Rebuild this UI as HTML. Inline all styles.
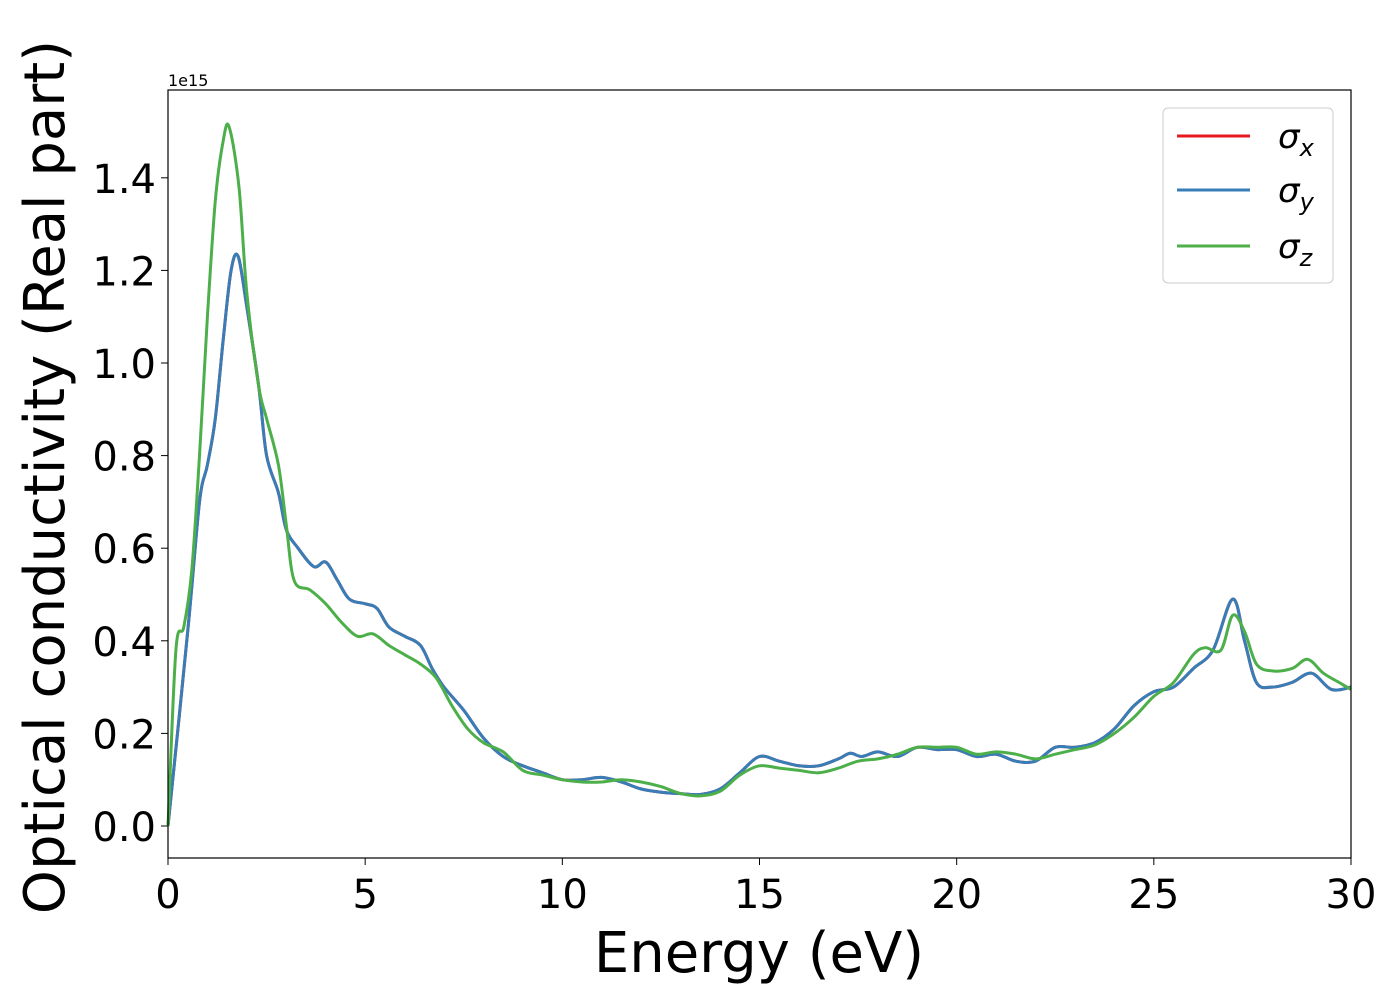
<!DOCTYPE html>
<html><head><meta charset="utf-8"><style>
body{margin:0;background:#fff}
svg{display:block;font-family:"DejaVu Sans","Liberation Sans",sans-serif}
</style></head><body>
<svg id="chart" width="1400" height="1000" viewBox="0 0 1400 1000" xmlns="http://www.w3.org/2000/svg">
<rect width="1400" height="1000" fill="#fff"/>
<g id="ticks"></g>
<g id="series"></g>
<rect x="168" y="90" width="1183" height="768" fill="none" stroke="#000" stroke-width="1.2"/>
<text x="168" y="86" font-size="16">1e15</text>
<text x="759" y="972" font-size="56" text-anchor="middle">Energy (eV)</text>
<text transform="translate(64,477) rotate(-90)" font-size="56" text-anchor="middle">Optical conductivity (Real part)</text>
<g>
<rect x="1163" y="108" width="170" height="175" rx="5" fill="#fff" fill-opacity="0.8" stroke="#ccc" stroke-width="1"/>
<g><line x1="1177" y1="136" x2="1250" y2="136" stroke="#e41a1c" stroke-width="3"/><text x="1278" y="148" font-size="34" font-style="italic">σ<tspan font-size="24" dy="8">x</tspan></text></g>
<g><line x1="1177" y1="190" x2="1250" y2="190" stroke="#377eb8" stroke-width="3"/><text x="1278" y="202" font-size="34" font-style="italic">σ<tspan font-size="24" dy="8">y</tspan></text></g>
<g><line x1="1177" y1="246" x2="1250" y2="246" stroke="#4daf4a" stroke-width="3"/><text x="1278" y="258" font-size="34" font-style="italic">σ<tspan font-size="24" dy="8">z</tspan></text></g>
</g>
</svg>
<script>
const xTicks=[0,5,10,15,20,25,30];
const yTicks=[0.0,0.2,0.4,0.6,0.8,1.0,1.2,1.4];
const energyXY=[0,0.5,0.8,1.0,1.2,1.4,1.6,1.78,2.0,2.3,2.5,2.8,3.0,3.3,3.7,4.0,4.3,4.6,5.0,5.3,5.6,6.0,6.4,6.7,7.0,7.5,8.0,8.5,9.0,9.5,10,10.5,11,11.5,12,12.5,13,13.5,14,14.5,15,15.5,16,16.5,17,17.3,17.6,18,18.5,19,19.5,20,20.5,21,21.5,22,22.5,23,23.5,24,24.5,25,25.5,26,26.5,27,27.3,27.6,28,28.5,29,29.5,30];
const sigmaXY=[0,0.42,0.7,0.78,0.88,1.05,1.2,1.23,1.12,0.95,0.8,0.72,0.64,0.6,0.56,0.57,0.53,0.49,0.48,0.47,0.43,0.41,0.39,0.34,0.3,0.25,0.19,0.15,0.13,0.115,0.1,0.1,0.105,0.095,0.08,0.073,0.07,0.068,0.08,0.115,0.15,0.14,0.13,0.13,0.145,0.157,0.15,0.16,0.15,0.17,0.165,0.165,0.15,0.155,0.14,0.14,0.17,0.17,0.18,0.21,0.26,0.29,0.3,0.34,0.38,0.49,0.4,0.31,0.3,0.31,0.33,0.295,0.3];
const energyZ=[0,0.2,0.4,0.6,0.8,1.0,1.2,1.4,1.55,1.8,2.0,2.3,2.5,2.8,3.0,3.2,3.6,4.0,4.4,4.8,5.2,5.6,6.0,6.4,6.8,7.2,7.6,8.0,8.5,9.0,9.5,10,10.5,11,11.5,12,12.5,13,13.5,14,14.5,15,15.5,16,16.5,17,17.5,18,18.5,19,19.5,20,20.5,21,21.5,22,22.5,23,23.5,24,24.5,25,25.5,26,26.3,26.7,27.0,27.3,27.6,28,28.5,28.9,29.3,29.7,30];
const sigmaZ=[0,0.38,0.43,0.55,0.8,1.1,1.35,1.48,1.51,1.38,1.15,0.95,0.88,0.78,0.65,0.53,0.51,0.48,0.44,0.41,0.415,0.39,0.37,0.35,0.32,0.26,0.21,0.18,0.16,0.12,0.11,0.1,0.095,0.095,0.1,0.095,0.085,0.07,0.065,0.075,0.11,0.13,0.125,0.12,0.115,0.125,0.14,0.145,0.155,0.17,0.17,0.17,0.155,0.16,0.155,0.145,0.155,0.165,0.175,0.2,0.235,0.28,0.31,0.37,0.385,0.38,0.455,0.42,0.35,0.335,0.34,0.36,0.33,0.31,0.295];
const NS='http://www.w3.org/2000/svg';
const X=e=>168+e*(1183/30);
const Y=v=>826-v*463;
function pathFrom(xs,ys){
  const p=xs.map((e,i)=>[X(e),Y(ys[i])]);
  let d='M'+p[0][0].toFixed(1)+','+p[0][1].toFixed(1);
  for(let i=0;i<p.length-1;i++){
    const p0=p[Math.max(i-1,0)],p1=p[i],p2=p[i+1],p3=p[Math.min(i+2,p.length-1)];
    const c1=[p1[0]+(p2[0]-p0[0])/6,p1[1]+(p2[1]-p0[1])/6];
    const c2=[p2[0]-(p3[0]-p1[0])/6,p2[1]-(p3[1]-p1[1])/6];
    d+=' C'+c1.map(v=>v.toFixed(1))+' '+c2.map(v=>v.toFixed(1))+' '+p2.map(v=>v.toFixed(1));
  }
  return d;
}
const tg=document.getElementById('ticks');
xTicks.forEach(t=>{
  const l=document.createElementNS(NS,'line');
  l.setAttribute('x1',X(t));l.setAttribute('x2',X(t));l.setAttribute('y1',858);l.setAttribute('y2',865);l.setAttribute('stroke','#000');
  
  
  tg.appendChild(l);
  const s=document.createElementNS(NS,'text');
  s.setAttribute('x',X(t));s.setAttribute('y',908);s.setAttribute('font-size','40');s.setAttribute('text-anchor','middle');
  s.textContent=t;
  
  
  tg.appendChild(s);
});
yTicks.forEach(t=>{
  const l=document.createElementNS(NS,'line');
  l.setAttribute('x1',161);l.setAttribute('x2',168);l.setAttribute('y1',Y(t));l.setAttribute('y2',Y(t));l.setAttribute('stroke','#000');
  
  
  tg.appendChild(l);
  const s=document.createElementNS(NS,'text');
  s.setAttribute('x',156);s.setAttribute('y',Y(t)+15);s.setAttribute('font-size','40');s.setAttribute('text-anchor','end');
  s.textContent=t.toFixed(1);
  
  
  tg.appendChild(s);
});
const sg=document.getElementById('series');
[[energyXY,sigmaXY,'#e41a1c','sigma-x-line'],[energyXY,sigmaXY,'#377eb8','sigma-y-line'],[energyZ,sigmaZ,'#4daf4a','sigma-z-line']].forEach(s=>{
  const p=document.createElementNS(NS,'path');
  p.setAttribute('d',pathFrom(s[0],s[1]));
  p.setAttribute('fill','none');p.setAttribute('stroke',s[2]);p.setAttribute('stroke-width','3');
  
  
  sg.appendChild(p);
});
</script>
</body></html>
